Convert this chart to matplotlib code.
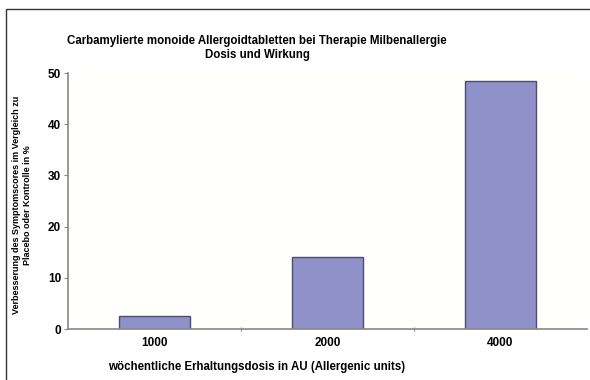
import matplotlib
matplotlib.use("Agg")
from matplotlib import pyplot as plt
from matplotlib.patches import Rectangle

# data
doses = ["1000", "2000", "4000"]
improvement = [2.5, 14.0, 48.5]
yticks = [0, 10, 20, 30, 40, 50]

plt.rcParams['font.family'] = ['Liberation Sans Narrow', 'Liberation Sans', 'DejaVu Sans']
plt.rcParams['font.weight'] = 'bold'
plt.rcParams['axes.labelweight'] = 'bold'

fig = plt.figure(figsize=(5.9, 3.8), dpi=100)
fig.patch.set_facecolor('white')

# outer frame of the picture
fig.patches.append(Rectangle((6 / 590, -0.1), 1.2, 1 - 9 / 380 + 0.1,
                             transform=fig.transFigure, fill=False,
                             edgecolor='#333333', linewidth=1.0))

ax = fig.add_axes([68 / 590, 1 - 329 / 380, (587 - 68) / 590, (329 - 73) / 380])
ax.set_facecolor('#fffffd')

x = range(len(doses))
ax.bar(x, improvement, width=0.41, color='#9191c9', edgecolor='#4d4d6e', linewidth=1.0)

ax.set_xlim(-0.5, 2.5)
ax.set_ylim(0, 50)
ax.set_yticks(yticks)
ax.set_yticklabels([str(t) for t in yticks], fontsize=8.5)
ax.set_xticks([0.5, 1.5])
ax.set_xticklabels([])
ax.set_xticks(list(x), minor=True)
ax.set_xticklabels(doses, minor=True, fontsize=8.5)
ax.tick_params(axis='x', which='minor', length=0, pad=6)
ax.tick_params(axis='x', which='major', length=3, direction='inout', color='#888888')
ax.tick_params(axis='y', length=3, color='#888888', pad=2)

for s in ['top', 'right']:
    ax.spines[s].set_visible(False)
ax.spines['left'].set_color('#888888')
ax.spines['bottom'].set_color('#888888')
ax.spines['left'].set_linewidth(1.2)
ax.spines['bottom'].set_linewidth(1.2)

ax.set_xlabel('wöchentliche Erhaltungsdosis in AU (Allergenic units)', fontsize=8.3)
ax.xaxis.set_label_coords((257 - 68) / 519, -32 / 256)
fig.text(22 / 590, 1 - 205 / 380,
         'Verbesserung des Symptomscores im Vergleich zu\nPlacebo oder Kontrolle in %',
         rotation=90, ha='center', va='center', fontsize=6.5, linespacing=1.4)

fig.text(257 / 590, 1 - 48 / 380,
         'Carbamylierte monoide Allergoidtabletten bei Therapie Milbenallergie\nDosis und Wirkung',
         ha='center', va='center', fontsize=8.3, linespacing=1.3)

plt.savefig('out.png', dpi=100)
